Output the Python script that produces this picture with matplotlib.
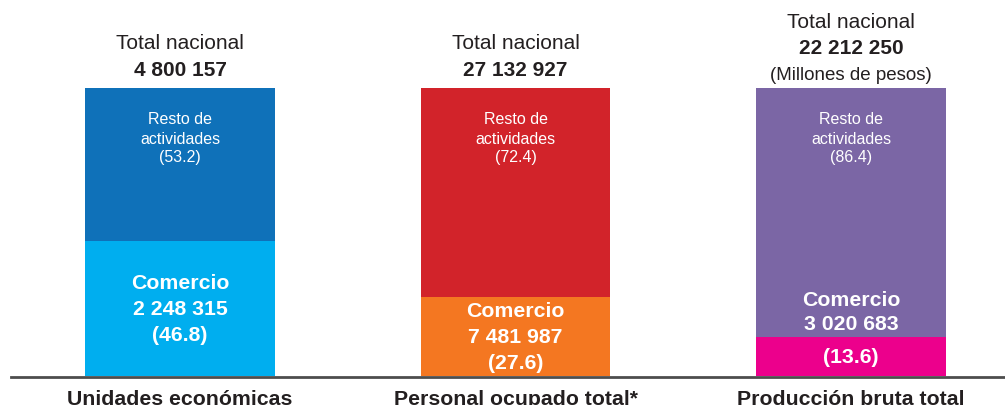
import matplotlib.pyplot as plt

plt.rcParams['font.family'] = ['Liberation Sans', 'DejaVu Sans']

# Datos
categorias = ["Unidades económicas", "Personal ocupado total*", "Producción bruta total"]
total_nacional = [4800157, 27132927, 22212250]
comercio = [2248315, 7481987, 3020683]
pct_comercio = [46.8, 27.6, 13.6]
pct_resto = [53.2, 72.4, 86.4]
nota_unidad = ["", "", "(Millones de pesos)"]

color_resto = ["#0F71B9", "#D2232A", "#7B66A5"]
color_comercio = ["#00AEEF", "#F47721", "#EC008C"]
texto = "#231F20"


def fmt(n):
    return f"{n:,}".replace(",", " ")


fig = plt.figure(figsize=(10.05, 4.06), dpi=100)
ax = fig.add_axes([0, 29 / 406, 1, 288 / 406])
ax.set_xlim(-0.5365, 2.459)
ax.set_ylim(0, 100)
ax.axis("off")
px = 100 / 288  # unidades de datos por pixel

x = list(range(len(categorias)))
ancho = 0.566

ax.bar(x, pct_comercio, width=ancho, color=color_comercio, linewidth=0)
ax.bar(x, pct_resto, width=ancho, bottom=pct_comercio, color=color_resto, linewidth=0)

# Línea base
ax.axhline(-1 * px, xmin=0.011, xmax=1, color="#4D4D4D", lw=2, clip_on=False)

for i in x:
    top = pct_comercio[i] + pct_resto[i]

    # Encabezado
    lineas = [("Total nacional", "normal", 15), (fmt(total_nacional[i]), "bold", 15)]
    if nota_unidad[i]:
        lineas.append((nota_unidad[i], "normal", 13.5))
        off = 14
    else:
        off = 19
    for t, w, s in reversed(lineas):
        ax.text(i, top + off * px, t, ha="center", va="center",
                fontsize=s, fontweight=w, color=texto)
        off += 26.5

    # Resto de actividades
    for k, t in enumerate(["Resto de", "actividades", f"({pct_resto[i]})"]):
        ax.text(i, top - (31 + 19 * k) * px, t, ha="center", va="center",
                fontsize=11.5, color="white")

    # Comercio
    b = pct_comercio[i]
    bloque = ["Comercio", fmt(comercio[i]), f"({pct_comercio[i]})"]
    if b > 20:
        centro = b / 2
        for k, t in enumerate(bloque):
            ax.text(i, centro + (26 - 26 * k) * px, t, ha="center", va="center",
                    fontsize=15.3, fontweight="bold", color="white")
    else:
        ax.text(i, b / 2, bloque[2], ha="center", va="center",
                fontsize=15.3, fontweight="bold", color="white")
        ax.text(i, b + 13 * px, bloque[1], ha="center", va="center",
                fontsize=15.3, fontweight="bold", color="white")
        ax.text(i, b + 37 * px, bloque[0], ha="center", va="center",
                fontsize=15.3, fontweight="bold", color="white")

    # Categoría
    ax.text(i, -28 * px, categorias[i], ha="center", va="baseline",
            fontsize=15.3, fontweight="bold", color=texto)

fig.savefig("out.png", dpi=100)
